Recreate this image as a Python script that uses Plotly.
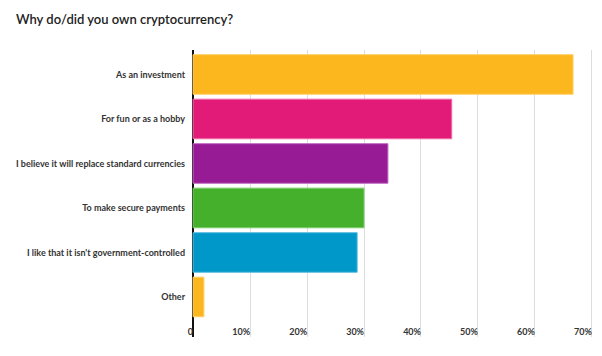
import plotly.graph_objects as go

categories = [
    "As an investment",
    "For fun or as a hobby",
    "I believe it will replace standard currencies",
    "To make secure payments",
    "I like that it isn't government-controlled",
    "Other",
]
values = [66.7, 45.4, 34.2, 30.0, 28.8, 1.9]
colors = ["#FDB71E", "#E21B78", "#961B95", "#44B02B", "#0097C9", "#FDB71E"]
edge_colors = ["#FFD06A", "#F06AA8", "#C06AC0", "#7ACD68", "#5BBDE0", "#FFD06A"]
tick_vals = [0, 10, 20, 30, 40, 50, 60, 70]
tick_text = ["0", "10%", "20%", "30%", "40%", "50%", "60%", "70%"]

fig = go.Figure(go.Bar(
    x=values,
    y=categories,
    orientation="h",
    marker=dict(color=colors, line=dict(color=edge_colors, width=1)),
    width=0.89,
))

# the page body has an 8px default margin, so the figure is drawn 8px in
OFF = 8
W, H = 602 - 2 * OFF, 356 - 2 * OFF
px_per_unit = 5.7
x_min, x_max = -2.3, 70.2
zero_px = 193.3 - OFF
left = zero_px + x_min * px_per_unit
plot_w = (x_max - x_min) * px_per_unit
right = max(W - left - plot_w, 0)
top = 50 - OFF
bottom = H - (337 - OFF)

fig.update_layout(
    width=W, height=H,
    margin=dict(l=left, r=right, t=top, b=bottom, pad=0),
    paper_bgcolor="white", plot_bgcolor="white",
    showlegend=False,
    title=dict(
        text="Why do/did you own cryptocurrency?",
        x=(16 - OFF) / W, xanchor="left", xref="container",
        y=1 - (19 - OFF) / H, yanchor="middle", yref="container",
        font=dict(family="Lato", size=13, color="#222222", weight=600),
    ),
    font=dict(family="Lato", color="#333333"),
)

fig.update_xaxes(
    range=[x_min, x_max],
    tickvals=tick_vals, ticktext=tick_text,
    ticklabelposition="inside left",
    ticklabelstandoff=-6,
    tickfont=dict(family="Lato", size=9, color="#333333", weight="bold"),
    showgrid=True, gridcolor="#DDDDDD", gridwidth=1,
    zeroline=True, zerolinecolor="#111111", zerolinewidth=1.5,
    showline=False, ticks="",
    automargin=False,
    fixedrange=True,
)
fig.update_yaxes(
    categoryorder="array", categoryarray=categories,
    range=[5.9, -0.55],
    showgrid=False, zeroline=False, showline=False,
    ticks="", ticklabelstandoff=-6,
    tickfont=dict(family="Lato", size=9, color="#333333", weight="bold"),
    automargin=False,
    fixedrange=True,
)

fig.write_html("out.html")
